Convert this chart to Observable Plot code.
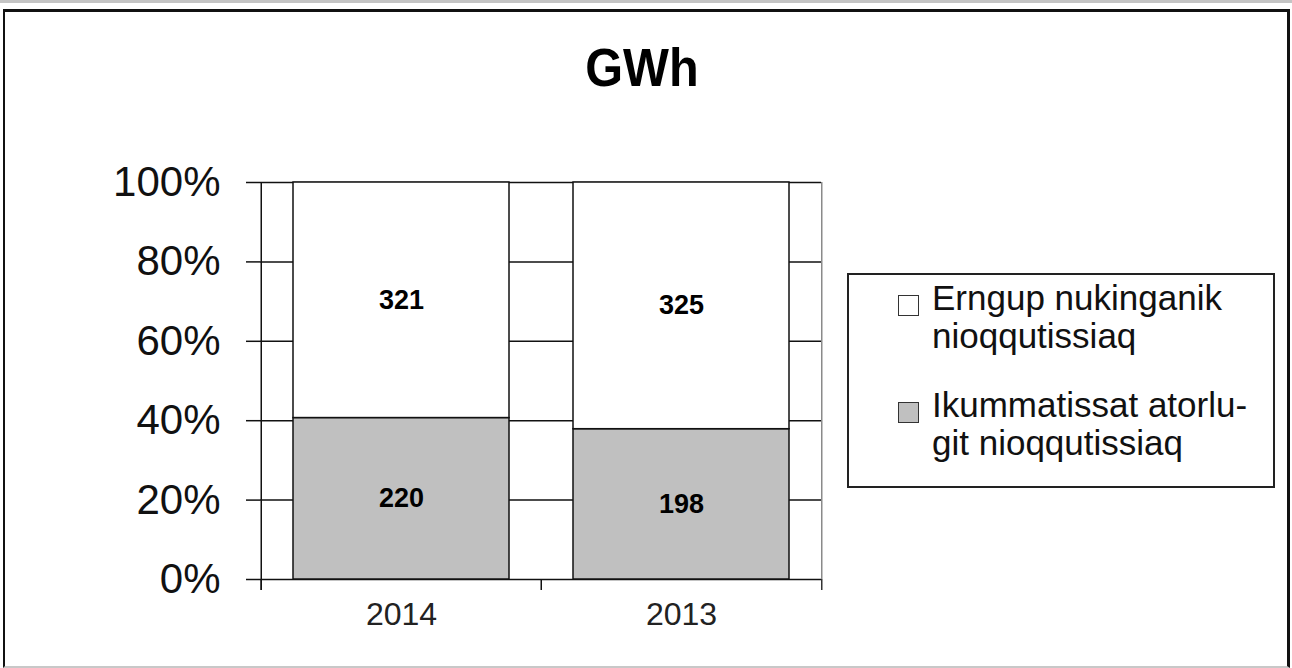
<!DOCTYPE html>
<html>
<head>
<meta charset="utf-8">
<script src="https://cdn.jsdelivr.net/npm/d3@7"></script>
<script src="https://cdn.jsdelivr.net/npm/@observablehq/plot@0.6"></script>
<style>
  html, body { margin: 0; padding: 0; background: #fff; overflow: hidden; }
  #page { position: relative; width: 1292px; height: 668px; font-family: "Liberation Sans", Arial, sans-serif; }
  #topline { position: absolute; left: 0; top: 0; width: 1292px; height: 3px; background: #c4c4c4; }
  #frame { position: absolute; left: 3px; top: 9px; width: 1282px; height: 654px;
           border-top: 3px solid #111; border-left: 2px solid #111; border-right: 3px solid #111; border-bottom: 2px solid #c8c8c8;
           pointer-events: none; z-index: 3; }
  #chart { position: absolute; left: 0; top: 0; z-index: 1; }
  #title { position: absolute; left: 0; width: 1283px; top: 37px; text-align: center; z-index: 2;
           font-size: 54px; font-weight: bold; color: #000; line-height: 60px; }
  #title span { display: inline-block; transform: scaleX(0.9); }
  #legend { position: absolute; left: 847px; top: 273px; width: 424px; height: 211px; border: 2px solid #222; background: #fff; z-index: 2; }
  .item { position: absolute; left: 83px; font-size: 35px; line-height: 38px; color: #111; white-space: nowrap; }
  .sw { position: absolute; left: 49px; width: 21px; height: 21px; box-sizing: border-box; border: 1.5px solid #333; }
</style>
</head>
<body>
<div id="page">
  <div id="topline"></div>
  <div id="chart"></div>
  <div id="title"><span>GWh</span></div>
  <div id="legend"></div>
  <div id="frame"></div>
</div>
<script>
const title = "GWh";
const years = ["2014", "2013"];
const seriesNames = ["Ikummatissat atorlugit nioqqutissiaq", "Erngup nukinganik nioqqutissiaq"];
const seriesColors = ["#c0c0c0", "#ffffff"];
const fuelValues = [220, 198];   // Ikummatissat atorlugit nioqqutissiaq (grey, bottom)
const waterValues = [321, 325];  // Erngup nukinganik nioqqutissiaq (white, top)
const yTicks = [0, 0.2, 0.4, 0.6, 0.8, 1];
const legendLines = [
  ["Erngup nukinganik", "nioqqutissiaq"],
  ["Ikummatissat atorlu-", "git nioqqutissiaq"]
];

const data = years.flatMap((year, i) => [
  {year, series: seriesNames[0], value: fuelValues[i]},
  {year, series: seriesNames[1], value: waterValues[i]}
]);

const W = 1292, H = 668, mL = 260, mR = 471, mT = 182, mB = 89;
const step = (W - mL - mR) / years.length;
const below = -0.028;

const chart = Plot.plot({
  width: W, height: H,
  marginLeft: mL, marginRight: mR, marginTop: mT, marginBottom: mB,
  style: {fontFamily: "'Liberation Sans', Arial, sans-serif", background: "transparent", color: "#111"},
  x: {domain: years, paddingInner: 0.23, paddingOuter: 0.115, axis: null, label: null},
  y: {domain: [0, 1], axis: null, label: null},
  color: {domain: seriesNames, range: seriesColors},
  marks: [
    Plot.ruleY(yTicks, {stroke: "#111", strokeWidth: 1.5}),
    Plot.axisY(yTicks, {tickSize: 14, tickPadding: 26, fontSize: 42, strokeWidth: 1.5, color: "#111", label: null,
      tickFormat: d => `${Math.round(d * 100)}%`}),
    // right plot-area border
    Plot.ruleX([years[years.length - 1]], {x: d => d, dx: step / 2, y1: 0, y2: 1, stroke: "#8a8a8a", strokeWidth: 1.5}),
    // category boundary ticks
    Plot.ruleX(years, {x: d => d, dx: -step / 2, y1: 0, y2: below, stroke: "#111", strokeWidth: 1.5}),
    Plot.ruleX([years[years.length - 1]], {x: d => d, dx: step / 2, y1: 0, y2: below, stroke: "#333", strokeWidth: 1.5}),
    // left axis line
    Plot.ruleX([years[0]], {x: d => d, dx: -step / 2, y1: 1, y2: below, stroke: "#111", strokeWidth: 1.5}),
    Plot.barY(data, Plot.stackY({x: "year", y: "value", fill: "series", offset: "normalize",
      stroke: "#111", strokeWidth: 1.5})),
    Plot.text(data, Plot.stackY({x: "year", y: "value", text: "value", offset: "normalize",
      fontSize: 27, fontWeight: "bold", fill: "#000"})),
    Plot.axisX(years, {tickSize: 0, tickPadding: 23, fontSize: 32, color: "#222", label: null})
  ]
});
document.getElementById("chart").appendChild(chart);

// Legend
const legend = document.getElementById("legend");
const itemTops = [4, 111];
const swatchTops = [20, 127];
const order = [1, 0]; // legend lists white series first
order.forEach((si, k) => {
  const sw = document.createElement("div");
  sw.className = "sw";
  sw.style.top = swatchTops[k] + "px";
  sw.style.background = seriesColors[si];
  legend.appendChild(sw);
  const t = document.createElement("div");
  t.className = "item";
  t.style.top = itemTops[k] + "px";
  t.innerHTML = legendLines[k].join("<br>");
  legend.appendChild(t);
});
</script>
</body>
</html>
